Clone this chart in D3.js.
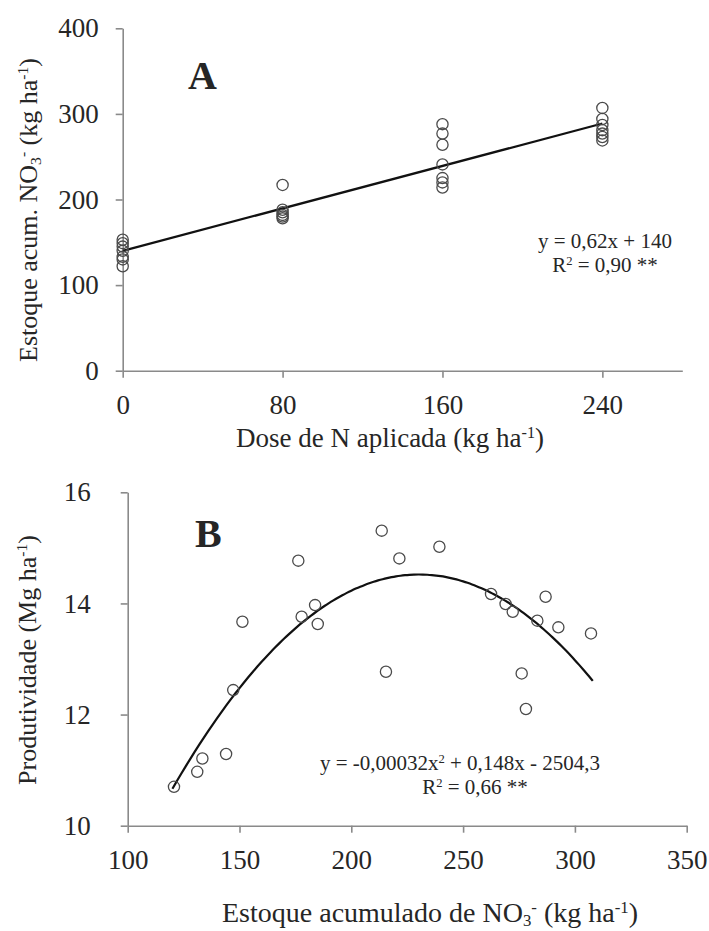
<!DOCTYPE html>
<html>
<head>
<meta charset="utf-8">
<script src="https://cdn.jsdelivr.net/npm/d3@7"></script>
<style>
  body { margin: 0; background: #fff; }
  svg text { font-family: "Liberation Serif", "Times New Roman", serif; fill: #262626; }
</style>
</head>
<body>
<div id="chart"></div>
<script>
// ======================
// Data
// ======================
// Panel A: dose de N x estoque acumulado de NO3-
var doseA = [0, 0, 0, 0, 0, 0, 0,
             80, 80, 80, 80, 80, 80,
             160, 160, 160, 160, 160, 160, 160,
             240, 240, 240, 240, 240, 240, 240];
var estoqueA = [153, 149, 145, 140, 133, 130, 122,
                217, 188, 185, 182, 180, 178,
                288, 277, 264, 241, 225, 220, 214,
                307, 294, 287, 281, 277, 273, 269];
var xTicksA = [0, 80, 160, 240];
var yTicksA = [0, 100, 200, 300, 400];
var fitA = [0.62, 140];          // y = a*x + b
var fitRangeA = [0, 240];

// Panel B: estoque acumulado x produtividade
var estoqueB = [120.7, 131.1, 133.4, 144.0, 147.2, 151.3, 176.3, 177.8, 183.8, 185.0,
                213.6, 221.5, 239.4, 215.5, 262.5, 269.0, 272.2, 286.9, 283.2, 292.6,
                307.2, 276.2, 278.1];
var produtB = [10.70, 10.97, 11.21, 11.29, 12.44, 13.67, 14.77, 13.76, 13.97, 13.63,
               15.31, 14.81, 15.02, 12.77, 14.17, 13.99, 13.85, 14.12, 13.69, 13.57,
               13.46, 12.74, 12.10];
var xTicksB = [100, 150, 200, 250, 300, 350];
var yTicksB = [10, 12, 14, 16];
var fitB = [-0.000317, 0.146, -2.29]; // y = a*x^2 + b*x + c (curve as drawn)
var fitRangeB = [120, 308];

// ======================
// SVG
// ======================
var svgWidth = 709, svgHeight = 931;
var svg = d3.select("#chart").append("svg")
    .attr("width", svgWidth)
    .attr("height", svgHeight);

var axisColor = "#8a8a8a";
var pointColor = "#4a4a4a";

function styleAxis(g) {
  g.select(".domain").attr("stroke", axisColor).attr("stroke-width", 1.6);
  g.selectAll(".tick line").attr("stroke", axisColor).attr("stroke-width", 1.6);
  g.selectAll(".tick text")
    .attr("font-size", 27)
    .attr("font-family", "Liberation Serif, serif")
    .attr("fill", "#262626");
}

// superscript / subscript helper for labels
function richLabel(sel, parts, size) {
  parts.forEach(function(p) {
    var t = sel.append("tspan").text(p.t);
    if (p.sup) t.attr("font-size", size * 0.6).attr("baseline-shift", "55%");
    if (p.sub) t.attr("font-size", size * 0.6).attr("baseline-shift", "-25%");
  });
}

// ======================
// Panel A
// ======================
var xA = d3.scaleLinear().domain([0, 280]).range([122.7, 682.3]);
var yA = d3.scaleLinear().domain([0, 400]).range([370.7, 28.3]);

var gA = svg.append("g");

gA.append("g")
  .attr("transform", `translate(0, ${yA(0)})`)
  .call(d3.axisBottom(xA).tickValues(xTicksA).tickSize(7).tickSizeOuter(0).tickPadding(17).tickFormat(d3.format("d")))
  .call(styleAxis);

gA.append("g")
  .attr("transform", `translate(${xA(0)}, 0)`)
  .call(d3.axisLeft(yA).tickValues(yTicksA).tickSize(7).tickSizeOuter(0).tickPadding(17).tickFormat(d3.format("d")))
  .call(styleAxis);

// regression line
var lineA = d3.line().x(d => xA(d)).y(d => yA(fitA[0] * d + fitA[1]));
gA.append("path")
  .datum(fitRangeA)
  .attr("d", lineA)
  .attr("fill", "none")
  .attr("stroke", "#111")
  .attr("stroke-width", 2.2);

gA.append("g").selectAll("circle")
  .data(doseA.map((d, i) => [d, estoqueA[i]]))
  .enter()
  .append("circle")
  .attr("cx", d => xA(d[0]))
  .attr("cy", d => yA(d[1]))
  .attr("r", 5.6)
  .attr("fill", "none")
  .attr("stroke", pointColor)
  .attr("stroke-width", 1.3);

gA.append("text")
  .attr("x", 188).attr("y", 89)
  .attr("font-size", 40).attr("font-weight", "bold").attr("fill", "#000")
  .text("A");

gA.append("text")
  .attr("x", 605).attr("y", 248)
  .attr("text-anchor", "middle").attr("font-size", 21)
  .text("y = 0,62x + 140");
var r2A = gA.append("text")
  .attr("x", 605).attr("y", 272)
  .attr("text-anchor", "middle").attr("font-size", 21);
richLabel(r2A, [{t: "R"}, {t: "2", sup: true}, {t: " = 0,90 **"}], 21);

// axis labels
var xlabA = gA.append("text")
  .attr("x", 390).attr("y", 447)
  .attr("text-anchor", "middle").attr("font-size", 27);
richLabel(xlabA, [{t: "Dose de N aplicada (kg ha"}, {t: "-1", sup: true}, {t: ")"}], 27);

var ylabA = gA.append("text")
  .attr("transform", "translate(37, 210) rotate(-90)")
  .attr("text-anchor", "middle").attr("font-size", 26);
richLabel(ylabA, [{t: "Estoque acum. NO"}, {t: "3", sub: true}, {t: "-", sup: true}, {t: " (kg ha"}, {t: "-1", sup: true}, {t: ")"}], 26);

// ======================
// Panel B
// ======================
var xB = d3.scaleLinear().domain([100, 350]).range([127.7, 686.7]);
var yB = d3.scaleLinear().domain([10, 16]).range([825.7, 492.3]);

var gB = svg.append("g");

gB.append("g")
  .attr("transform", `translate(0, ${yB(10)})`)
  .call(d3.axisBottom(xB).tickValues(xTicksB).tickSize(7).tickSizeOuter(0).tickPadding(17).tickFormat(d3.format("d")))
  .call(styleAxis);

gB.append("g")
  .attr("transform", `translate(${xB(100)}, 0)`)
  .call(d3.axisLeft(yB).tickValues(yTicksB).tickSize(7).tickSizeOuter(0).tickPadding(30).tickFormat(d3.format("d")))
  .call(styleAxis);

var curveB = d3.line()
  .x(d => xB(d))
  .y(d => yB(fitB[0] * d * d + fitB[1] * d + fitB[2]))
  .curve(d3.curveBasis);
gB.append("path")
  .datum(d3.range(fitRangeB[0], fitRangeB[1] + 0.1, 2))
  .attr("d", curveB)
  .attr("fill", "none")
  .attr("stroke", "#111")
  .attr("stroke-width", 2.2);

gB.append("g").selectAll("circle")
  .data(estoqueB.map((d, i) => [d, produtB[i]]))
  .enter()
  .append("circle")
  .attr("cx", d => xB(d[0]))
  .attr("cy", d => yB(d[1]))
  .attr("r", 5.6)
  .attr("fill", "none")
  .attr("stroke", pointColor)
  .attr("stroke-width", 1.3);

gB.append("text")
  .attr("x", 195).attr("y", 547)
  .attr("font-size", 40).attr("font-weight", "bold").attr("fill", "#000")
  .text("B");

var eqB = gB.append("text")
  .attr("x", 460).attr("y", 770)
  .attr("text-anchor", "middle").attr("font-size", 21);
richLabel(eqB, [{t: "y = -0,00032x"}, {t: "2", sup: true}, {t: " + 0,148x - 2504,3"}], 21);
var r2B = gB.append("text")
  .attr("x", 475).attr("y", 794)
  .attr("text-anchor", "middle").attr("font-size", 21);
richLabel(r2B, [{t: "R"}, {t: "2", sup: true}, {t: " = 0,66  **"}], 21);

var xlabB = gB.append("text")
  .attr("x", 430).attr("y", 922)
  .attr("text-anchor", "middle").attr("font-size", 28);
richLabel(xlabB, [{t: "Estoque acumulado de NO"}, {t: "3", sub: true}, {t: "-", sup: true}, {t: " (kg ha"}, {t: "-1", sup: true}, {t: ")"}], 28);

var ylabB = gB.append("text")
  .attr("transform", "translate(36, 660) rotate(-90)")
  .attr("text-anchor", "middle").attr("font-size", 26);
richLabel(ylabB, [{t: "Produtividade (Mg ha"}, {t: "-1", sup: true}, {t: ")"}], 26);
</script>
</body>
</html>
